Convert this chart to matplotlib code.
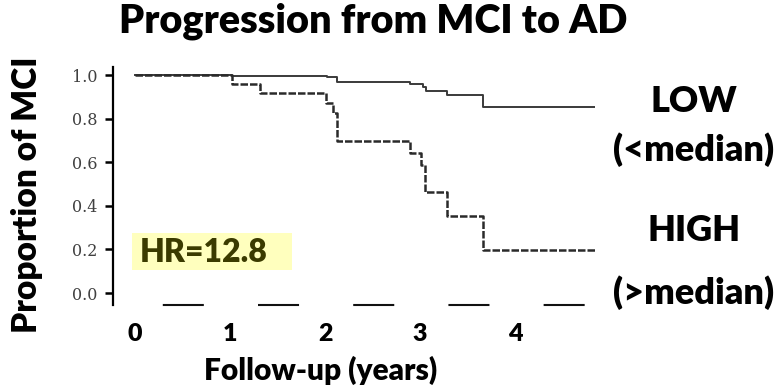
import matplotlib
matplotlib.use('Agg')
import matplotlib.pyplot as plt
from matplotlib.patches import Rectangle

# Kaplan-Meier style survival steps (years, proportion still MCI)
years_low = [0, 1.02, 2.02, 2.13, 2.89, 3.03, 3.06, 3.28, 3.66, 4.84]
surv_low = [1.0, 0.995, 0.99, 0.968, 0.96, 0.945, 0.927, 0.908, 0.853, 0.853]

years_high = [0, 1.02, 1.32, 2.01, 2.08, 2.13, 2.89, 3.01, 3.05, 3.28, 3.66, 4.84]
surv_high = [1.0, 0.96, 0.917, 0.872, 0.826, 0.697, 0.642, 0.587, 0.463, 0.353, 0.197, 0.197]

y_ticks = [0.0, 0.2, 0.4, 0.6, 0.8, 1.0]
x_ticks = [0, 1, 2, 3, 4]
hazard_ratio = 12.8

W, H = 780, 387
BOLD = dict(family='Lato', fontweight='heavy')

fig = plt.figure(figsize=(W / 100, H / 100), dpi=100)
ax = fig.add_axes([113 / W, 1 - 305 / H, (595 - 113) / W, (305 - 67) / H])

ax.step(years_low, surv_low, where='post', color='#3a3a3a', lw=1.4)
ax.step(years_high, surv_high, where='post', color='#2a2a2a', lw=1.8,
        linestyle=(0, (3, 0.8)))

ax.set_xlim(-0.232, 4.84)
ax.set_ylim(-0.055, 1.037)

for side in ['top', 'right']:
    ax.spines[side].set_visible(False)
ax.spines['left'].set_linewidth(1.6)
ax.spines['left'].set_color('black')
# broken x axis line
ax.spines['bottom'].set_linewidth(1.5)
ax.spines['bottom'].set_linestyle((21.3, (18.7, 27)))
ax.spines['bottom'].set_color('#111111')

ax.set_yticks(y_ticks)
ax.set_yticklabels(['%.1f' % v for v in y_ticks], family='DejaVu Serif',
                   fontsize=11.5, color='#404040')
ax.tick_params(axis='y', length=6, width=1.8, pad=5, color='black')

ax.set_xticks(x_ticks)
ax.set_xticklabels([str(v) for v in x_ticks], fontsize=18, **BOLD)
ax.tick_params(axis='x', length=0, pad=13)

fig.text(373 / W, 1 - 33 / H, 'Progression from MCI to AD', fontsize=28.5,
         ha='center', va='baseline', **BOLD)
fig.text(27 / W, 1 - 195 / H, 'Proportion of MCI', fontsize=24, rotation=90,
         ha='center', va='center', **BOLD)
fig.text(321 / W, 1 - 380 / H, 'Follow-up (years)', fontsize=21.5,
         ha='center', va='baseline', **BOLD)

right_labels = [('LOW', 102), ('(<median)', 150), ('HIGH', 231), ('(>median)', 293)]
for label, ypix in right_labels:
    fig.text(694 / W, 1 - ypix / H, label, fontsize=26, ha='center', va='center',
             **BOLD)

# highlighted hazard ratio
fig.patches.append(Rectangle((132 / W, 1 - 270 / H), 160 / W, 37 / H,
                             transform=fig.transFigure, facecolor='#ffffbe',
                             edgecolor='none', zorder=0))
fig.text(140 / W, 1 - 262 / H, 'HR=%.1f' % hazard_ratio, fontsize=23,
         color='#3b3b00', ha='left', va='baseline', **BOLD)

fig.savefig('out.png', dpi=100)
